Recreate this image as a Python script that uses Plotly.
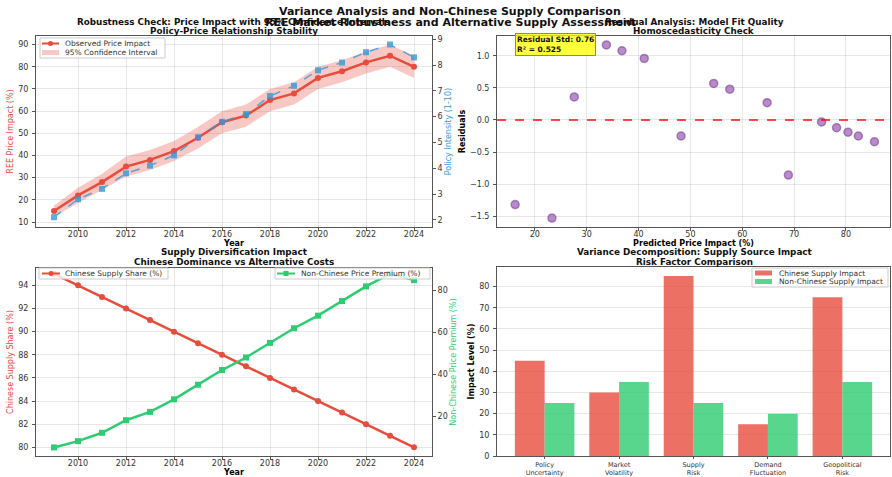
import plotly.graph_objects as go

FONT = "DejaVu Sans"
RED = "#e74c3c"
BLUE = "#3498db"
GREEN = "#2ecc71"
PURPLE = "#9b59b6"

years = list(range(2009, 2025))
price_impact = [15, 22, 28, 35, 38, 42, 48, 55, 58, 65, 68, 75, 78, 82, 85, 80]
ci_half = [2.5, 3.5, 3.8, 4.5, 4.5, 4.5, 4.8, 5, 5, 5, 5, 5, 5, 5, 5, 5]
policy_intensity = [2.1, 2.8, 3.2, 3.8, 4.1, 4.5, 5.2, 5.8, 6.1, 6.8, 7.2, 7.8, 8.1, 8.5, 8.8, 8.3]

predicted = [16.2, 23.3, 27.6, 33.8, 36.8, 41.1, 48.2, 54.5, 57.6, 64.8, 68.9, 75.3, 78.2, 80.4, 82.4, 85.5]
residuals = [-1.32, -1.53, 0.36, 1.17, 1.08, 0.96, -0.25, 0.57, 0.48, 0.27, -0.86, -0.03, -0.12, -0.19, -0.25, -0.34]

chinese_share = [95, 94, 93, 92, 91, 90, 89, 88, 87, 86, 85, 84, 83, 82, 81, 80]
non_chinese_premium = [5, 8, 12, 18, 22, 28, 35, 42, 48, 55, 62, 68, 75, 82, 88, 85]

risk_factors = ["Policy<br>Uncertainty", "Market<br>Volatility", "Supply<br>Risk",
                "Demand<br>Fluctuation", "Geopolitical<br>Risk"]
chinese_impact = [45, 30, 85, 15, 75]
non_chinese_impact = [25, 35, 25, 20, 35]

upper = [p + h for p, h in zip(price_impact, ci_half)]
lower = [p - h for p, h in zip(price_impact, ci_half)]

W, H = 892, 477
def fx(px):
    return px / W
def fy(py):
    return 1 - py / H
def px_x(a, b):
    return [a / W, b / W]
def px_y(top, bottom):
    return [1 - bottom / H, 1 - top / H]

fig = go.Figure()

# ---- Top-left
fig.add_trace(go.Scatter(x=years, y=lower, mode="lines", line=dict(width=0),
                         showlegend=False, hoverinfo="skip", xaxis="x", yaxis="y"))
fig.add_trace(go.Scatter(x=years, y=upper, mode="lines", line=dict(width=0),
                         fill="tonexty", fillcolor="rgba(231,76,60,0.3)",
                         name="95% Confidence Interval", showlegend=False,
                         xaxis="x", yaxis="y"))
fig.add_trace(go.Scatter(x=years, y=policy_intensity, mode="lines+markers",
                         line=dict(color=BLUE, width=1.5, dash="dash"),
                         marker=dict(symbol="square", size=6, color=BLUE),
                         opacity=0.8, showlegend=False, xaxis="x", yaxis="y2"))
fig.add_trace(go.Scatter(x=years, y=price_impact, mode="lines+markers",
                         line=dict(color=RED, width=2.5),
                         marker=dict(size=6, color=RED),
                         name="Observed Price Impact", showlegend=False,
                         xaxis="x", yaxis="y"))

# ---- Top-right
fig.add_trace(go.Scatter(x=predicted, y=residuals, mode="markers",
                         marker=dict(size=8, color="rgba(155,89,182,0.7)",
                                     line=dict(color="rgba(120,70,140,0.6)", width=1.5)),
                         showlegend=False, xaxis="x2", yaxis="y3"))

# ---- Bottom-left
fig.add_trace(go.Scatter(x=years, y=chinese_share, mode="lines+markers",
                         line=dict(color=RED, width=2.5), marker=dict(size=6, color=RED),
                         name="Chinese Supply Share (%)", showlegend=False,
                         xaxis="x3", yaxis="y4"))
fig.add_trace(go.Scatter(x=years, y=non_chinese_premium, mode="lines+markers",
                         line=dict(color=GREEN, width=2.5),
                         marker=dict(symbol="square", size=6, color=GREEN),
                         name="Non-Chinese Price Premium (%)", showlegend=False,
                         xaxis="x3", yaxis="y5"))

# ---- Bottom-right
fig.add_trace(go.Bar(x=list(range(5)), y=chinese_impact, offset=-0.4, width=0.4,
                     marker=dict(color="rgba(231,76,60,0.8)", line=dict(width=0)),
                     name="Chinese Supply Impact", showlegend=False,
                     xaxis="x4", yaxis="y6"))
fig.add_trace(go.Bar(x=list(range(5)), y=non_chinese_impact, offset=0.0, width=0.4,
                     marker=dict(color="rgba(46,204,113,0.8)", line=dict(width=0)),
                     name="Non-Chinese Supply Impact", showlegend=False,
                     xaxis="x4", yaxis="y6"))

tickf = dict(family=FONT, size=8, color="#333")
grid = "rgba(176,176,176,0.3)"
spine = "#555"

def ax(**kw):
    d = dict(showgrid=True, gridcolor=grid, gridwidth=1, zeroline=False,
             showline=True, linecolor=spine, linewidth=1, mirror=True,
             ticks="outside", ticklen=3, tickcolor=spine, tickfont=tickf,
             automargin=False)
    d.update(kw)
    return d

def title(t, color="#000", bold=True, size=8, standoff=3):
    txt = f"<b>{t}</b>" if bold else t
    return dict(text=txt, font=dict(family=FONT, size=size, color=color), standoff=standoff)

year_ticks = list(range(2010, 2025, 2))

# ---- manual compact legends (layout decoration)
shapes = [dict(type="line", xref="x2 domain", yref="y3", x0=0, x1=1, y0=0, y1=0,
               line=dict(color="red", width=2, dash="dash"), opacity=0.7)]
annots = []

def legend_box(x0, y0, x1, y1, entries):
    shapes.append(dict(type="rect", xref="paper", yref="paper",
                       x0=fx(x0), x1=fx(x1), y0=fy(y1), y1=fy(y0),
                       fillcolor="rgba(255,255,255,0.8)", line=dict(color="#cccccc", width=1)))
    for kind, color, sym, label, lx0, lx1, yc, tx in entries:
        if kind == "line":
            shapes.append(dict(type="line", xref="paper", yref="paper",
                               x0=fx(lx0), x1=fx(lx1), y0=fy(yc), y1=fy(yc),
                               line=dict(color=color, width=2)))
            xm = (lx0 + lx1) / 2
            if sym == "circle":
                shapes.append(dict(type="circle", xref="paper", yref="paper",
                                   x0=fx(xm - 2.5), x1=fx(xm + 2.5), y0=fy(yc + 2.5), y1=fy(yc - 2.5),
                                   fillcolor=color, line=dict(width=0)))
            else:
                shapes.append(dict(type="rect", xref="paper", yref="paper",
                                   x0=fx(xm - 2.5), x1=fx(xm + 2.5), y0=fy(yc + 2.5), y1=fy(yc - 2.5),
                                   fillcolor=color, line=dict(width=0)))
        else:
            shapes.append(dict(type="rect", xref="paper", yref="paper",
                               x0=fx(lx0), x1=fx(lx1), y0=fy(yc + 2.5), y1=fy(yc - 2.5),
                               fillcolor=color, line=dict(width=0)))
        annots.append(dict(text=label, x=fx(tx), y=fy(yc), xref="paper", yref="paper",
                           xanchor="left", yanchor="middle", showarrow=False,
                           font=dict(family=FONT, size=7.5, color="#333")))

legend_box(40, 38, 165, 58, [
    ("line", RED, "circle", "Observed Price Impact", 42, 59, 43.5, 63),
    ("patch", "rgba(231,76,60,0.3)", None, "95% Confidence Interval", 42, 59, 52.5, 63),
])
legend_box(39, 268, 168, 279, [
    ("line", RED, "circle", "Chinese Supply Share (%)", 42, 60, 273.5, 63),
])
legend_box(275, 268, 430, 279, [
    ("line", GREEN, "square", "Non-Chinese Price Premium (%)", 277, 295, 273.5, 299),
])
legend_box(752, 268, 888, 287, [
    ("patch", "rgba(231,76,60,0.8)", None, "Chinese Supply Impact", 755, 772, 273, 777),
    ("patch", "rgba(46,204,113,0.8)", None, "Non-Chinese Supply Impact", 755, 772, 281.5, 777),
])

XS = -4  # x tick label standoff
YS = 2   # y tick label standoff

fig.update_layout(
    width=W, height=H, margin=dict(l=0, r=0, t=0, b=0),
    paper_bgcolor="white", plot_bgcolor="white",
    font=dict(family=FONT, size=8, color="#333"),
    barmode="overlay", showlegend=False,
    xaxis=ax(domain=px_x(36, 432), range=[2008.25, 2024.75], tickvals=year_ticks,
             anchor="y", ticklabelstandoff=XS, title=title("Year", standoff=0)),
    yaxis=ax(domain=px_y(36, 227), range=[7.75, 93.9], tickvals=list(range(10, 91, 10)),
             anchor="x", ticklabelstandoff=YS,
             title=title("REE Price Impact (%)", RED, bold=False, size=8)),
    yaxis2=ax(overlaying="y", side="right", anchor="x", range=[1.72, 9.13],
              tickvals=list(range(2, 10)), showgrid=False, mirror=False,
              title=title("Policy Intensity (1-10)", BLUE, bold=False, size=8)),
    xaxis2=ax(domain=px_x(497, 890), range=[12.7, 88.5], tickvals=list(range(20, 81, 10)),
              anchor="y3", ticklabelstandoff=XS,
              title=title("Predicted Price Impact (%)", standoff=0)),
    yaxis3=ax(domain=px_y(36, 227), range=[-1.67, 1.31],
              tickvals=[-1.5, -1.0, -0.5, 0.0, 0.5, 1.0],
              ticktext=["\u22121.5", "\u22121.0", "\u22120.5", "0.0", "0.5", "1.0"],
              anchor="x2", ticklabelstandoff=YS, title=title("Residuals")),
    xaxis3=ax(domain=px_x(36, 432), range=[2008.25, 2024.75], tickvals=year_ticks,
              anchor="y4", ticklabelstandoff=XS, title=title("Year", standoff=0)),
    yaxis4=ax(domain=px_y(268, 456), range=[79.25, 95.5], tickvals=list(range(80, 95, 2)),
              anchor="x3", ticklabelstandoff=YS,
              title=title("Chinese Supply Share (%)", RED, bold=False)),
    yaxis5=ax(overlaying="y4", side="right", anchor="x3", range=[0.9, 90.8],
              tickvals=[20, 40, 60, 80], showgrid=False, mirror=False,
              title=title("Non-Chinese Price Premium (%)", GREEN, bold=False)),
    xaxis4=ax(domain=px_x(497, 890), range=[-0.64, 4.64], tickvals=list(range(5)),
              ticktext=risk_factors, showgrid=False, anchor="y6", ticklen=2,
              tickfont=dict(family=FONT, size=6.5, color="#333")),
    yaxis6=ax(domain=px_y(267, 456), range=[0, 89.25], tickvals=list(range(0, 81, 10)),
              anchor="x4", ticklabelstandoff=YS, title=title("Impact Level (%)")),
    shapes=shapes,
)

def t(text, xpx, ypx, size):
    annots.append(dict(text=f"<b>{text}</b>", x=fx(xpx), y=fy(ypx), xref="paper", yref="paper",
                       xanchor="center", yanchor="middle", showarrow=False,
                       font=dict(family=FONT, size=size, color="#111")))

t("Robustness Check: Price Impact with 95% Confidence Intervals", 234, 22.5, 8.8)
t("Policy-Price Relationship Stability", 234, 31.5, 8.8)
t("Residual Analysis: Model Fit Quality", 694, 22.5, 8.8)
t("Homoscedasticity Check", 694, 31.5, 8.8)
t("Supply Diversification Impact", 234, 252.5, 8.8)
t("Chinese Dominance vs Alternative Costs", 234, 261.5, 8.8)
t("Variance Decomposition: Supply Source Impact", 694, 252.5, 8.8)
t("Risk Factor Comparison", 694, 261.5, 8.8)
t("Variance Analysis and Non-Chinese Supply Comparison", 450, 11.5, 11)
t("REE Market Robustness and Alternative Supply Assessment", 450, 23, 11)

annots.append(dict(text="<b>Residual Std: 0.76<br>R\u00b2 = 0.525</b>",
                   x=fx(515), y=fy(33), xref="paper", yref="paper", xanchor="left", yanchor="top",
                   showarrow=False, align="left", bgcolor="rgba(255,255,0,0.75)",
                   bordercolor="#888", borderwidth=1, borderpad=1,
                   font=dict(family=FONT, size=7.5, color="#111")))
fig.update_layout(annotations=annots)

fig.write_html("out.html", config={"displayModeBar": False},
               post_script="document.body.style.margin='0';document.body.style.overflow='hidden';")
